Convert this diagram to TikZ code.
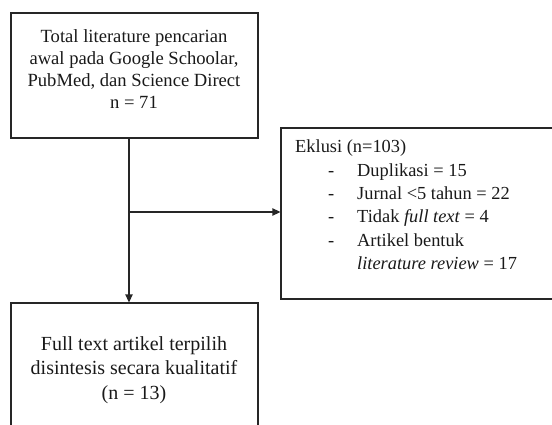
\documentclass[tikz,border=0pt]{standalone}
\usepackage{fontspec}
\setmainfont{Liberation Serif}
\usetikzlibrary{arrows.meta,positioning}
\begin{document}
\begin{tikzpicture}[x={(1pt,0)},y={(0,-1pt)},
  box/.style={draw=black!85,line width=1.3pt,rectangle,inner sep=0pt},
  txt/.style={inner sep=0pt,text=black!90},
  conn/.style={draw=black!85,line width=1.3pt},
  arr/.style={conn,-{Triangle[length=8pt,width=7.5pt]}}]
\useasboundingbox (0,0) rectangle (552,425);
\clip (0,0) rectangle (552,425);
% boxes
\node[box,minimum width=247pt,minimum height=125pt] (b1) at (134.5,75.5) {};
\node[box,minimum width=290pt,minimum height=171pt] (b2) at (426,213.5) {};
\node[box,minimum width=247pt,minimum height=140pt] (b3) at (134.5,373) {};
% texts
\node[txt,align=center,font=\fontsize{18.6}{22}\selectfont] (t1) at (134,69)
  {Total literature pencarian\\awal pada Google Schoolar,\\PubMed, dan Science Direct\\n = 71};
\node[txt,align=center,font=\fontsize{20}{24.5}\selectfont] (t3) at (134,370)
  {Full text artikel terpilih\\disintesis secara kualitatif\\(n = 13)};
\node[txt,align=left,anchor=north west,font=\fontsize{18.4}{23.3}\selectfont] (t2) at (295,140)
  {Eklusi (n=103)\\
   \hspace*{33pt}\makebox[29pt][l]{-}Duplikasi = 15\\
   \hspace*{33pt}\makebox[29pt][l]{-}Jurnal <5 tahun = 22\\
   \hspace*{33pt}\makebox[29pt][l]{-}Tidak \textit{full text} = 4\\
   \hspace*{33pt}\makebox[29pt][l]{-}Artikel bentuk\\
   \hspace*{62pt}\textit{literature review} = 17};
% connectors
\coordinate (j) at (129,212);
\draw[conn] (b1.south -| j) -- (j);
\draw[arr] (j) -- (b3.north -| j);
\draw[arr] (j) -- (j -| b2.west);
\end{tikzpicture}
\end{document}
